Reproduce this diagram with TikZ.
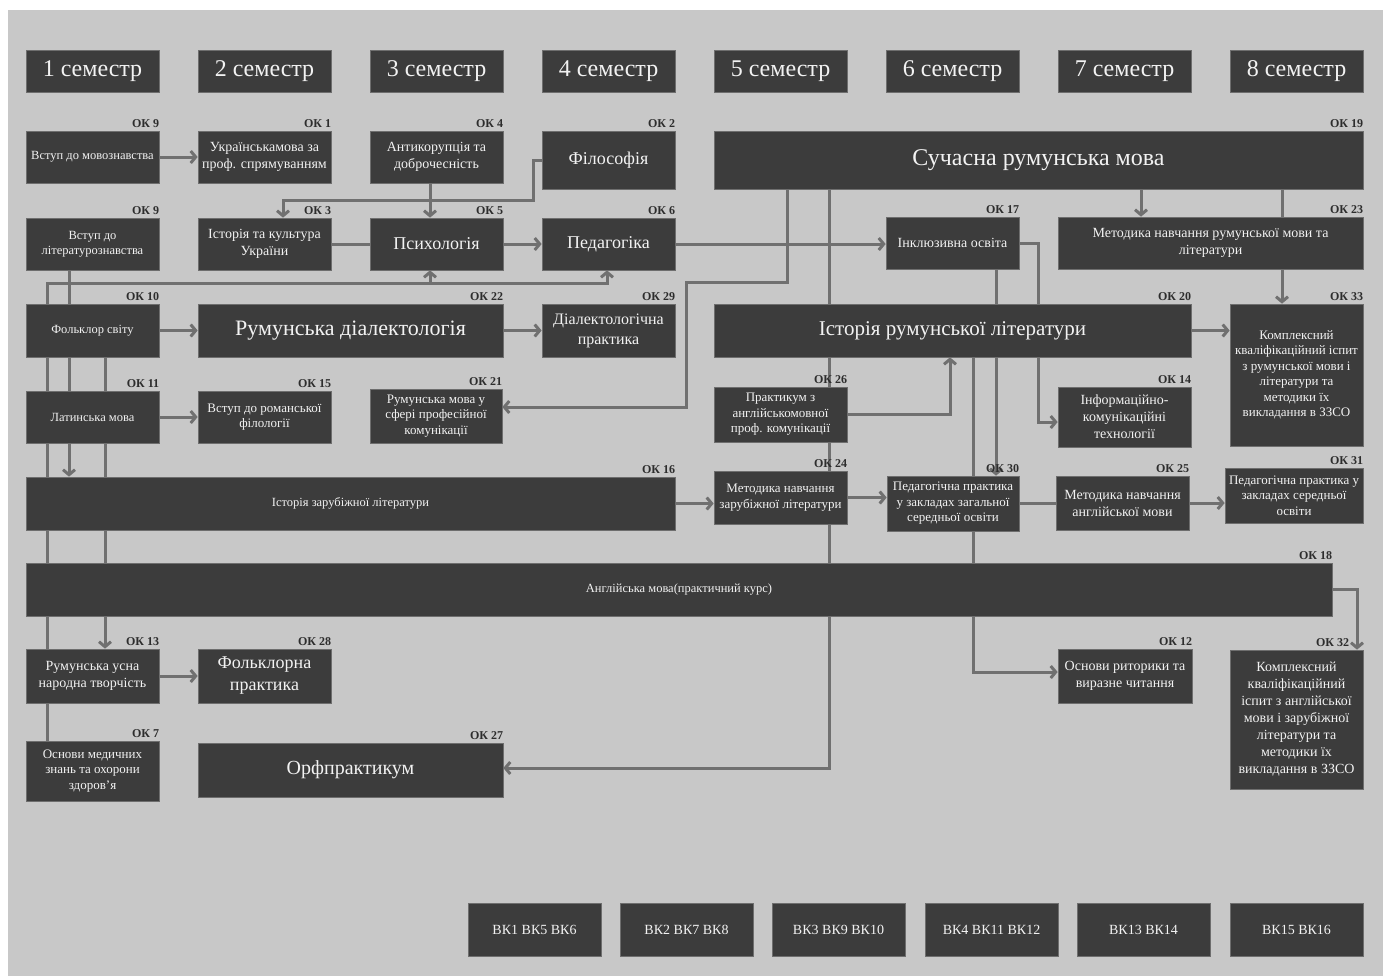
\documentclass[tikz,border=0pt]{standalone}
\usepackage{fontspec}
\setmainfont{Liberation Serif}
\usetikzlibrary{arrows.meta}
\definecolor{bgc}{RGB}{200,200,200}
\definecolor{boxc}{RGB}{60,60,60}
\definecolor{boxe}{RGB}{110,110,110}
\definecolor{linec}{RGB}{112,112,112}
\definecolor{lblc}{RGB}{45,45,45}
\definecolor{txtc}{RGB}{242,242,242}
\pgfdeclarelayer{back}
\pgfdeclarelayer{lines}
\pgfsetlayers{back,lines,main}
\tikzset{
 bx/.style={rectangle, fill=boxc, draw=boxe, line width=0.7pt, text=txtc, align=center, inner sep=2pt},
 lbl/.style={text=lblc, font=\bfseries\fontsize{12}{13}\selectfont, inner sep=0pt, anchor=base east},
 conn/.style={draw=linec, line width=3pt},
 arr/.style={conn, -{Straight Barb[length=5pt,width=12pt]}},
 f12/.style={font=\fontsize{12.5}{15}\selectfont},
 f13/.style={font=\fontsize{13}{15.5}\selectfont},
 f14/.style={font=\fontsize{14}{17}\selectfont},
 f16/.style={font=\fontsize{16}{20}\selectfont},
 f18/.style={font=\fontsize{18}{22}\selectfont},
 f20/.style={font=\fontsize{20}{24}\selectfont},
 f21/.style={font=\fontsize{21}{25}\selectfont},
 f22/.style={font=\fontsize{22}{26}\selectfont},
 f24/.style={font=\fontsize{24}{28}\selectfont},
}
\newcommand{\mybox}[7]{\node[bx,#6,minimum width={#4-#2},minimum height={#5-#3}] (#1) at ({(#2+#4)/2},{(#3+#5)/2}) {#7};}
\newcommand{\oklabel}[2]{\node[lbl] (#1-l) at ([yshift=3pt]#1.north east) {ОК #2};}
\begin{document}
\begin{tikzpicture}[x=1pt,y=-1pt]
\useasboundingbox (0,0) rectangle (1389,978);
\begin{pgfonlayer}{back}
\fill[white] (0,0) rectangle (1389,978);
\fill[bgc] (8,10) rectangle (1383,976);
\end{pgfonlayer}
% headers
\mybox{h1}{26}{50}{159}{92}{f24}{1 семестр}
\mybox{h2}{198}{50}{331}{92}{f24}{2 семестр}
\mybox{h3}{370}{50}{503}{92}{f24}{3 семестр}
\mybox{h4}{542}{50}{675}{92}{f24}{4 семестр}
\mybox{h5}{714}{50}{847}{92}{f24}{5 семестр}
\mybox{h6}{886}{50}{1019}{92}{f24}{6 семестр}
\mybox{h7}{1058}{50}{1191}{92}{f24}{7 семестр}
\mybox{h8}{1230}{50}{1363}{92}{f24}{8 семестр}
% row 1
\mybox{ok9a}{26}{131}{159}{183}{f12}{Вступ до мовознавства}
\mybox{ok1}{198}{131}{331}{183}{f14}{Українськамова за\\проф. спрямуванням}
\mybox{ok4}{370}{131}{503}{183}{f14}{Антикорупція та\\доброчесність}
\mybox{ok2}{542}{131}{675}{189}{f18}{Філософія}
\mybox{ok19}{714}{131}{1363}{189}{f24}{Сучасна румунська мова}
% row 2
\mybox{ok9b}{26}{218}{159}{270}{f12}{Вступ до\\літературознавства}
\mybox{ok3}{198}{218}{331}{270}{f14}{Історія та культура\\України}
\mybox{ok5}{370}{218}{503}{270}{f18}{Психологія}
\mybox{ok6}{542}{218}{675}{270}{f18}{Педагогіка}
\mybox{ok17}{886}{217}{1019}{269}{f14}{Інклюзивна освіта}
\mybox{ok23}{1058}{217}{1363}{269}{f14}{Методика навчання румунської мови та\\літератури}
% row 3
\mybox{ok10}{26}{304}{159}{357}{f12}{Фольклор світу}
\mybox{ok22}{198}{304}{503}{357}{f22}{Румунська діалектологія}
\mybox{ok29}{542}{304}{675}{357}{f16}{Діалектологічна\\практика}
\mybox{ok20}{714}{304}{1191}{357}{f21}{Історія румунської літератури}
\mybox{ok33}{1230}{304}{1363}{446}{f13}{Комплексний\\кваліфікаційний іспит\\з румунської мови і\\літератури та\\методики їх\\викладання в ЗЗСО}
% row 4
\mybox{ok11}{26}{391}{159}{443}{f12}{Латинська мова}
\mybox{ok15}{198}{391}{331}{443}{f13}{Вступ до романської\\філології}
\mybox{ok21}{370}{389}{502}{443}{f13}{Румунська мова у\\сфері професійної\\комунікації}
\mybox{ok26}{714}{387}{847}{442}{f13}{Практикум з\\англійськомовної\\проф. комунікації}
\mybox{ok14}{1058}{387}{1191}{447}{f14}{Інформаційно-\\комунікаційні\\технології}
% row 5
\mybox{ok16}{26}{477}{675}{530}{f12}{Історія зарубіжної літератури}
\mybox{ok24}{714}{471}{847}{524}{f13}{Методика навчання\\зарубіжної літератури}
\mybox{ok30}{887}{476}{1019}{531}{f13}{Педагогічна практика\\у закладах загальної\\середньої освіти}
\mybox{ok25}{1056}{476}{1189}{530}{f14}{Методика навчання\\англійської мови}
\mybox{ok31}{1225}{468}{1363}{523}{f13}{Педагогічна практика у\\закладах середньої\\освіти}
% row 6
\mybox{ok18}{26}{563}{1332}{616}{f12}{Англійська мова(практичний курс)}
% row 7
\mybox{ok13}{26}{649}{159}{703}{f14}{Румунська усна\\народна творчість}
\mybox{ok28}{198}{649}{331}{703}{f18}{Фольклорна\\практика}
\mybox{ok12}{1058}{649}{1192}{703}{f14}{Основи риторики та\\виразне читання}
\mybox{ok32}{1230}{650}{1363}{789}{f14}{Комплексний\\кваліфікаційний\\іспит з англійської\\мови і зарубіжної\\літератури та\\методики їх\\викладання в ЗЗСО}
% row 8
\mybox{ok7}{26}{741}{159}{801}{f13}{Основи медичних\\знань та охорони\\здоров’я}
\mybox{ok27}{198}{743}{503}{797}{f20}{Орфпрактикум}
% bottom
\mybox{bk1}{468}{903}{601}{956}{f14}{ВК1 ВК5 ВК6}
\mybox{bk2}{620}{903}{753}{956}{f14}{ВК2 ВК7 ВК8}
\mybox{bk3}{772}{903}{905}{956}{f14}{ВК3 ВК9 ВК10}
\mybox{bk4}{925}{903}{1058}{956}{f14}{ВК4 ВК11 ВК12}
\mybox{bk5}{1077}{903}{1210}{956}{f14}{ВК13 ВК14}
\mybox{bk6}{1230}{903}{1363}{956}{f14}{ВК15 ВК16}
% labels
\oklabel{ok9a}{9}\oklabel{ok1}{1}\oklabel{ok4}{4}\oklabel{ok2}{2}\oklabel{ok19}{19}
\oklabel{ok9b}{9}\oklabel{ok3}{3}\oklabel{ok5}{5}\oklabel{ok6}{6}\oklabel{ok17}{17}\oklabel{ok23}{23}
\oklabel{ok10}{10}\oklabel{ok22}{22}\oklabel{ok29}{29}\oklabel{ok20}{20}\oklabel{ok33}{33}
\oklabel{ok11}{11}\oklabel{ok15}{15}\oklabel{ok21}{21}\oklabel{ok26}{26}\oklabel{ok14}{14}
\oklabel{ok16}{16}\oklabel{ok24}{24}\oklabel{ok30}{30}\oklabel{ok25}{25}\oklabel{ok31}{31}
\oklabel{ok18}{18}\oklabel{ok13}{13}\oklabel{ok28}{28}\oklabel{ok12}{12}
\node[lbl] (ok32-l) at ([yshift=3pt,xshift=-14pt]ok32.north east) {ОК 32};
\oklabel{ok7}{7}\oklabel{ok27}{27}
% coordinates
\coordinate (p2a) at (533,200); \coordinate (p2b) at (283,0);
\coordinate (p3) at (430,0);
\coordinate (p7) at (69,0);
\coordinate (p8a) at (47,283); \coordinate (p8b) at (430,283); \coordinate (p8c) at (607,283);
\coordinate (p9) at (105,0);
\coordinate (p13a) at (787,282); \coordinate (p13b) at (686,407);
\coordinate (p14) at (829,768);
\coordinate (p15) at (1141,0); \coordinate (p16) at (1282,0);
\coordinate (p17) at (1038,422);
\coordinate (p18) at (996,0);
\coordinate (p19) at (973,672);
\coordinate (p21) at (950,0);
\coordinate (p26) at (1357,0);
\begin{pgfonlayer}{lines}
\draw[arr] (ok9a.east) -- (ok1.west);
\draw[arr] (ok2.west) -| (p2a) -| (ok3.north -| p2b);
\draw[arr] (ok4.south -| p3) -- (ok5.north -| p3);
\draw[conn] (ok3.east) -- (ok5.west);
\draw[arr] (ok5.east) -- (ok6.west);
\draw[arr] (ok6.east) -- (ok17.west |- ok6.east);
\draw[arr] (ok9b.south -| p7) -- (ok16.north -| p7);
\draw[arr] (ok7.north -| p8a) -- (p8a) -- (p8c) -- (ok6.south -| p8c);
\draw[arr] (p8b) -- (ok5.south -| p8b);
\draw[arr] (ok10.south -| p9) -- (ok13.north -| p9);
\draw[arr] (ok10.east) -- (ok22.west);
\draw[arr] (ok11.east) -- (ok15.west);
\draw[arr] (ok22.east) -- (ok29.west);
\draw[arr] (ok19.south -| p13a) -- (p13a) -| (p13b) -- (ok21.east |- p13b);
\draw[arr] (ok19.south -| p14) -- (p14) -- (ok27.east |- p14);
\draw[arr] (ok19.south -| p15) -- (ok23.north -| p15);
\draw[arr] (ok19.south -| p16) -- (ok33.north -| p16);
\draw[arr] (ok17.east) -| (p17) -- (ok14.west |- p17);
\draw[arr] (ok17.south -| p18) -- (ok30.north -| p18);
\draw[arr] (ok20.south -| p19) -- (p19) -- (ok12.west |- p19);
\draw[arr] (ok20.east) -- (ok33.west |- ok20.east);
\draw[arr] (ok26.east) -| (ok20.south -| p21);
\draw[arr] (ok16.east) -- (ok24.west |- ok16.east);
\draw[arr] (ok24.east) -- (ok30.west |- ok24.east);
\draw[conn] (ok30.east) -- (ok25.west |- ok30.east);
\draw[arr] (ok25.east) -- (ok31.west |- ok25.east);
\draw[arr] (ok18.east) -| (ok32.north -| p26);
\draw[arr] (ok13.east) -- (ok28.west);
\end{pgfonlayer}
\end{tikzpicture}
\end{document}
